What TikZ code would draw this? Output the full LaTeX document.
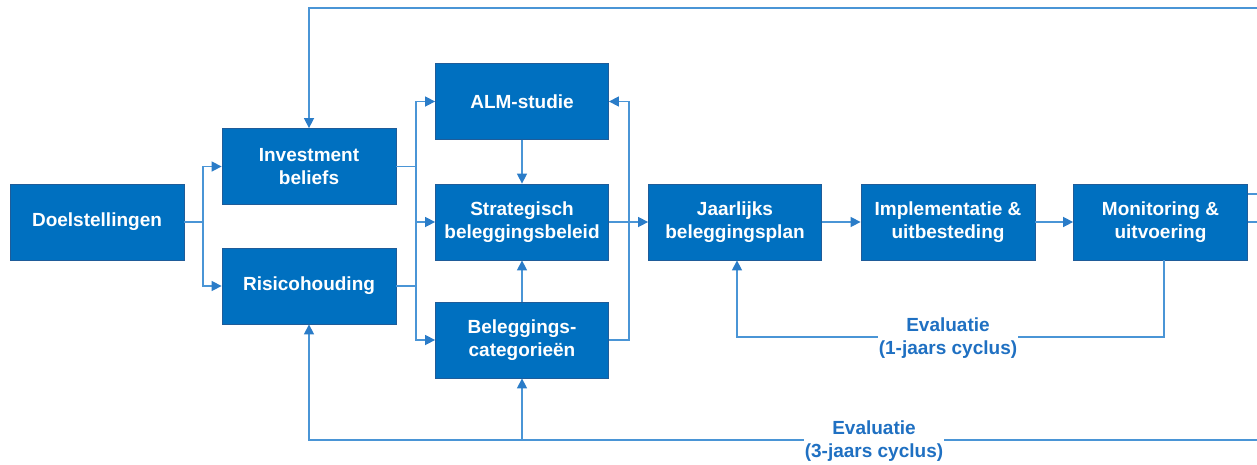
\documentclass[tikz,border=0pt]{standalone}
\usepackage{fontspec}
\setmainfont{Liberation Sans}
\usetikzlibrary{arrows.meta}
\definecolor{boxblue}{HTML}{0070C0}
\definecolor{boxedge}{HTML}{1F5C99}
\definecolor{linkblue}{HTML}{4A95D6}
\definecolor{tipblue}{HTML}{2A7CC8}
\definecolor{textblue}{HTML}{1F70C2}
\begin{document}
\begin{tikzpicture}[x=1pt,y=-1pt,
  box/.style={draw=boxedge,line width=0.8pt,fill=boxblue,text=white,
    font=\fontsize{19}{23}\selectfont\bfseries,minimum width=174pt,
    minimum height=76pt,inner sep=0pt,align=center},
  link/.style={draw=linkblue,line width=1.5pt},
  arr/.style={link,-{Triangle[length=10pt,width=10pt,fill=tipblue,color=tipblue]}},
  lab/.style={text=textblue,fill=white,font=\fontsize{19}{23}\selectfont\bfseries,
    align=center,inner xsep=1pt,inner ysep=0pt}]
\useasboundingbox (0,0) rectangle (1257,464);

\node[box] (doel) at (97,222) {Doelstellingen};
\node[box] (inv) at (309,166.5) {Investment\\beliefs};
\node[box] (risk) at (309,286) {Risicohouding};
\node[box,minimum width=173pt] (alm) at (522,101.5) {ALM-studie};
\node[box,minimum width=173pt] (strat) at (522,222) {Strategisch\\beleggingsbeleid};
\node[box,minimum width=173pt] (bel) at (522,340) {Beleggings-\\categorieën};
\node[box,minimum width=173pt] (jaar) at (735,222) {Jaarlijks\\beleggingsplan};
\node[box] (impl) at (948,222) {Implementatie \&\\uitbesteding};
\node[box] (mon) at (1160.5,222) {Monitoring \&\\uitvoering};

% Doelstellingen split
\coordinate (j1) at (203,222);
\draw[link] (doel.east) -- (j1);
\draw[arr] (j1) |- (inv.west);
\draw[arr] (j1) |- (risk.west);

% beliefs / risk to column
\coordinate (j2) at (416,222);
\draw[link] (inv.east) -| (j2);
\draw[link] (risk.east) -| (j2);
\draw[arr] (j2) |- (alm.west);
\draw[arr] (j2) -- (strat.west);
\draw[arr] (j2) |- (bel.west);

\draw[arr] (alm) -- (strat);
\draw[arr] (bel) -- (strat);
\coordinate (r1) at (629,340);
\draw[arr] (bel.east) -- (r1) |- (alm.east);

\draw[arr] (strat) -- (jaar);
\draw[arr] (jaar) -- (impl);
\draw[arr] (impl) -- (mon);

% 1-year loop
\coordinate (e1) at (1164,337);
\coordinate (e2) at (737,337);
\draw[arr] (mon.south -| e1) -- (e1) -- (e2) -- (jaar.south -| e2);
\node[lab] (ev1) at (948,338) {Evaluatie\\(1-jaars cyclus)};

% top loop
\coordinate (t1) at (1257,8);
\draw[arr] (t1) -| (inv.north);
\coordinate (t2) at (1257,194);
\coordinate (t3) at (1257,222);
\draw[link] (mon.east |- t2) -- (t2);
\draw[link] (mon.east) -- (t3);

% bottom loop
\coordinate (b1) at (1257,440);
\draw[arr] (b1) -| (risk.south);
\draw[arr] (bel.south |- b1) -- (bel.south);
\node[lab] (ev3) at (874,441) {Evaluatie\\(3-jaars cyclus)};
\end{tikzpicture}
\end{document}
